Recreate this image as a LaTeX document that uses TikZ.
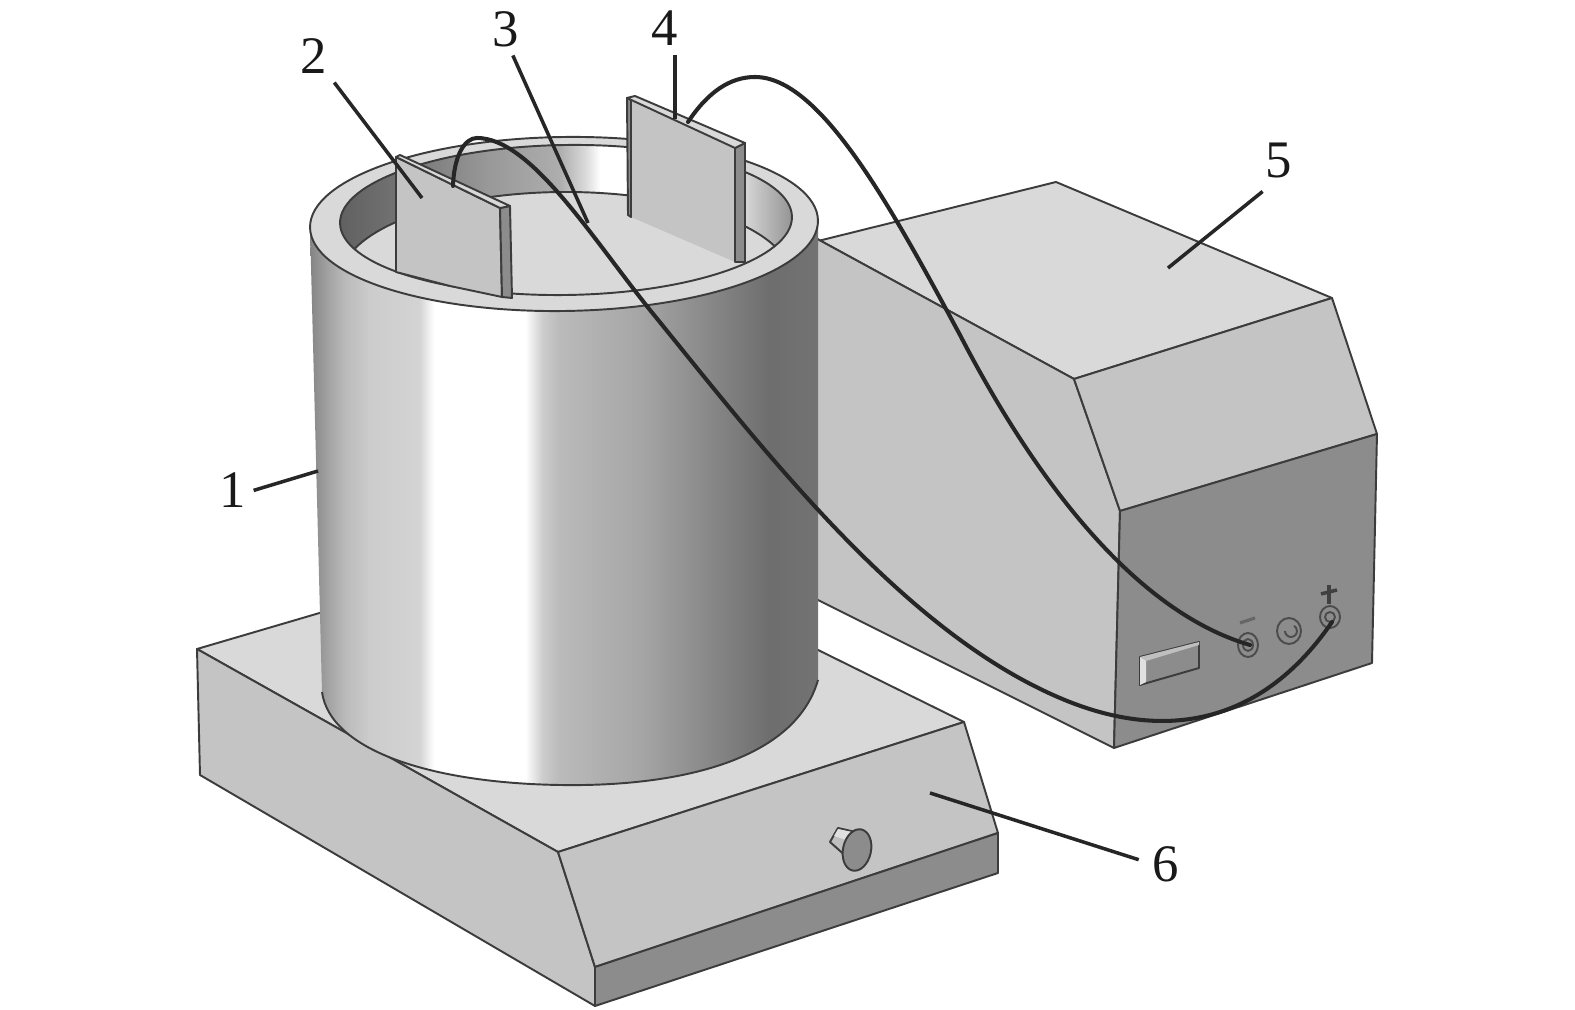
\documentclass[tikz,border=0pt]{standalone}
\usepackage{fontspec}
\setmainfont{Liberation Serif}
\definecolor{topgray}{HTML}{D9D9D9}
\definecolor{sidegray}{HTML}{C4C4C4}
\definecolor{darkgray}{HTML}{8C8C8C}
\definecolor{linegray}{HTML}{3C3C3C}
\pgfdeclarehorizontalshading{wallshade}{100bp}{color(0bp)=(black!48); color(25bp)=(black!48); color(26.5bp)=(black!38); color(28.4bp)=(black!27); color(30.9bp)=(black!20); color(35.8bp)=(black!17); color(37.2bp)=(white); color(46.2bp)=(white); color(47.9bp)=(black!20); color(49.6bp)=(black!27); color(57.5bp)=(black!35); color(63.9bp)=(black!46); color(70.3bp)=(black!57); color(75bp)=(black!55); color(100bp)=(black!55)}
\pgfdeclarehorizontalshading{innershade}{100bp}{color(0bp)=(black!62); color(25bp)=(black!62); color(31.6bp)=(black!55); color(41.6bp)=(black!40); color(49.3bp)=(black!32); color(52.1bp)=(black!15); color(53.8bp)=(white); color(64.8bp)=(white); color(69.8bp)=(black!16); color(75bp)=(black!42); color(100bp)=(black!42)}
\tikzset{
	edge/.style={draw=linegray, line width=0.55pt, line join=round},
	cable/.style={draw=black!85, line width=1.15pt, line cap=round},
	leader/.style={draw=black!85, line width=1pt},
	numlabel/.style={font=\fontsize{15}{18}\selectfont, inner sep=0pt, text=black!90}
}
\begin{document}
\begin{tikzpicture}[x=0.01cm, y=-0.01cm]
	\useasboundingbox (0, 0) rectangle (1575, 1010);
	\fill [white] (0, 0) rectangle (1575, 1010);

	\draw [edge, fill=topgray] (810, 243) -- (1056, 182) -- (1332, 298) -- (1074, 379) -- (810, 235) -- cycle; % Box 5, top
	\draw [edge, fill=sidegray] (810, 235) -- (1074, 379) -- (1120, 511) -- (1114, 748) -- (810, 596) -- cycle; % Box 5, side
	\draw [edge, fill=sidegray] (1074, 379) -- (1332, 298) -- (1377, 434) -- (1120, 511) -- cycle; % Box 5, slope
	\draw [edge, fill=darkgray] (1120, 511) -- (1377, 434) -- (1372, 663) -- (1114, 748) -- cycle; % Box 5, front

	\draw [edge, fill=darkgray] (1140, 657) -- (1199, 642) -- (1199, 668) -- (1140, 685) -- cycle; % Display
	\fill [black!25] (1140, 657) -- (1199, 642) -- (1199, 645) -- (1146, 661) -- cycle;
	\fill [black!12] (1140, 657) -- (1146, 661) -- (1146, 682) -- (1140, 685) -- cycle;
	\draw [edge, black!70] (1248, 645) circle [x radius=10, y radius=12]; % Sockets
	\draw [edge, black!70] (1248, 645) circle [x radius=5, y radius=6];
	\draw [edge, black!70] (1289, 631) circle [x radius=12, y radius=13];
	\draw [edge, black!70] (1285, 631) arc [start angle=180, end angle=-60, radius=6];
	\draw [edge, black!70] (1330, 617) circle [x radius=10, y radius=11];
	\draw [edge, black!70] (1330, 617) circle [radius=5];
	\draw [edge, black!60, line width=0.9pt] (1240, 623) -- (1255, 618);
	\draw [edge, black!75, line width=1pt] (1329, 585) -- (1329, 604);
	\draw [edge, black!75, line width=1pt] (1321, 594) -- (1337, 590);

	\draw [edge, fill=topgray] (197, 649) -- (585, 535) -- (964, 722) -- (558, 852) -- cycle; % Base, top
	\draw [edge, fill=sidegray] (197, 649) -- (558, 852) -- (595, 967) -- (595, 1006) -- (200, 775) -- cycle; % Base, side
	\draw [edge, fill=sidegray] (558, 852) -- (964, 722) -- (998, 833) -- (595, 967) -- cycle; % Base, slope
	\draw [edge, fill=darkgray] (595, 967) -- (998, 833) -- (998, 873) -- (595, 1006) -- cycle; % Base, skirt

	\draw [edge, fill=black!25] (830, 842) -- (838, 828) -- (860, 833) -- (848, 858) -- cycle; % Knob
	\fill [black!12] (834, 836) -- (838, 829) -- (852, 832) -- (846, 840) -- cycle;
	\draw [edge, fill=darkgray, rotate around={-12:(857, 850)}] (857, 850) ellipse [x radius=14, y radius=21];

	\shade [shading=wallshade] (310, 227) -- (322, 692) .. controls (330, 750) and (430, 783) .. (560, 785) .. controls (680, 787) and (795, 760) .. (818, 680) -- (818, 220) -- cycle; % Cylinder
	\draw [edge] (322, 692) .. controls (330, 750) and (430, 783) .. (560, 785) .. controls (680, 787) and (795, 760) .. (818, 680);

	\draw [edge, fill=topgray, rotate around={0.8:(564, 224)}] (564, 224) ellipse [x radius=254, y radius=87]; % Rim
	\begin{scope}
		\clip [rotate around={0.8:(566, 220)}] (566, 220) ellipse [x radius=226, y radius=75];
		\shade [shading=innershade] (340, 140) rectangle (792, 300); % Inner wall
		\draw [edge, fill=topgray] (566, 280) ellipse [x radius=226, y radius=88]; % Floor
	\end{scope}
	\draw [edge, rotate around={0.8:(566, 220)}] (566, 220) ellipse [x radius=226, y radius=75];

	\draw [edge, fill=sidegray] (396, 157) -- (500, 208) -- (502, 297) -- (450, 286) -- (396, 272) -- cycle; % Plate 2
	\draw [edge, fill=darkgray] (500, 208) -- (510, 206) -- (512, 298) -- (502, 297) -- cycle;
	\draw [edge, fill=topgray] (396, 157) -- (400, 155) -- (510, 206) -- (500, 208) -- cycle;

	\fill [sidegray] (631, 100) -- (735, 148) -- (735, 262) -- (631, 217) -- cycle; % Plate 4
	\draw [edge, fill=darkgray] (627, 98) -- (631, 100) -- (631, 217) -- (628, 215) -- cycle;
	\draw [edge, fill=darkgray] (735, 148) -- (745, 143) -- (745, 262) -- (735, 262) -- cycle;
	\draw [edge, fill=topgray] (627, 98) -- (635, 96) -- (745, 143) -- (735, 148) -- cycle;

	\draw [cable] (688, 122) .. controls (708, 92) and (730, 77) .. (755, 77) .. controls (820, 77) and (890, 205) .. (960, 335) .. controls (1030, 470) and (1130, 610) .. (1250, 645); % Cables
	\draw [cable] (453, 186) .. controls (454, 155) and (465, 138) .. (477, 138) .. controls (530, 138) and (590, 235) .. (650, 310) .. controls (760, 445) and (900, 630) .. (1060, 698) .. controls (1170, 745) and (1265, 720) .. (1332, 622);

	\node [numlabel] (lab1) at (233, 490) {1};
	\node [numlabel] (lab2) at (314, 56) {2};
	\node [numlabel] (lab3) at (506, 29) {3};
	\node [numlabel] (lab4) at (665, 28) {4};
	\node [numlabel] (lab5) at (1279, 160) {5};
	\node [numlabel] (lab6) at (1166, 864) {6};
	\coordinate (tip1) at (318, 471);
	\coordinate (tip2) at (422, 198);
	\coordinate (tip3) at (588, 223);
	\coordinate (tip4) at (675, 119);
	\coordinate (tip5) at (1168, 268);
	\coordinate (tip6) at (930, 793);
	\draw [leader, shorten <=2pt] (lab1.-10) -- (tip1);
	\draw [leader, shorten <=3pt] (lab2.south east) -- (tip2);
	\draw [leader, shorten <=2.5pt] (lab3.-80) -- (tip3);
	\draw [leader, shorten <=2.5pt] (lab4.south -| tip4) -- (tip4);
	\draw [leader, shorten <=6pt] (lab5.south) -- (tip5);
	\draw [leader, shorten <=4pt] (lab6.west) -- (tip6);
\end{tikzpicture}
\end{document}
